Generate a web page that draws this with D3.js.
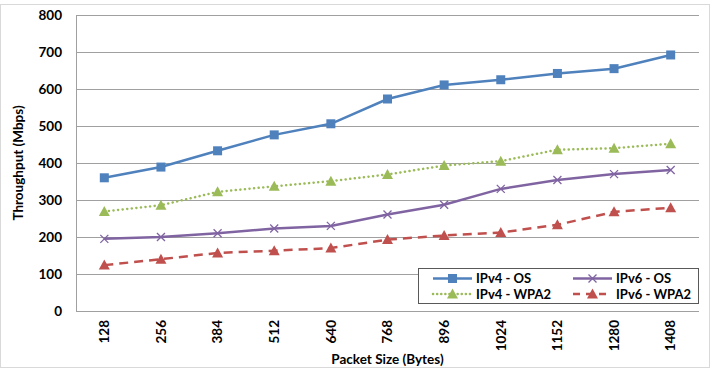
<!DOCTYPE html>
<html>
<head>
<meta charset="utf-8">
<script src="https://cdn.jsdelivr.net/npm/d3@7"></script>
<style>
  body { margin: 0; background: #fff; }
  text { font-family: Lato, "Open Sans", sans-serif; font-weight: bold; fill: #000; }
</style>
</head>
<body>
<div id="container"></div>
<script>
/* CONSTANTS AND GLOBALS */
const width = 712,
  height = 369,
  margin = { top: 15, bottom: 58, left: 76, right: 13 };

// DATA
const packetSizes = ["128", "256", "384", "512", "640", "768", "896", "1024", "1152", "1280", "1408"];
const ipv4OS   = [360, 389, 433, 476, 506, 573, 611, 625, 642, 655, 692];
const ipv4WPA2 = [269, 286, 322, 337, 351, 369, 393, 405, 436, 440, 452];
const ipv6OS   = [195, 200, 210, 223, 230, 261, 287, 330, 354, 370, 381];
const ipv6WPA2 = [124, 140, 157, 163, 170, 193, 204, 212, 233, 268, 279];
const yTicks = [0, 100, 200, 300, 400, 500, 600, 700, 800];

const series = [
  { name: "IPv4 - OS", values: ipv4OS, color: "#4F81BD", dash: null, marker: "square" },
  { name: "IPv6 - OS", values: ipv6OS, color: "#8064A2", dash: null, marker: "cross" },
  { name: "IPv4 - WPA2", values: ipv4WPA2, color: "#9BBB59", dash: "0.1,4.5", marker: "triangle" },
  { name: "IPv6 - WPA2", values: ipv6WPA2, color: "#C0504D", dash: "9,6", marker: "triangle" },
];

const fontSize = "13.5px";

const svg = d3.select("#container")
  .append("svg")
  .attr("width", width)
  .attr("height", height);

// outer chart frame
svg.append("rect")
  .attr("x", 0.5).attr("y", 4.5)
  .attr("width", 709).attr("height", 363)
  .attr("fill", "none")
  .attr("stroke", "#d9d9d9");

// SCALES
const x = d3.scaleBand()
  .domain(packetSizes)
  .range([margin.left, width - margin.right]);

const y = d3.scaleLinear()
  .domain([0, 800])
  .range([height - margin.bottom, margin.top]);

// gridlines
svg.append("g")
  .selectAll("line.grid")
  .data(yTicks)
  .join("line")
  .attr("class", "grid")
  .attr("x1", margin.left).attr("x2", width - margin.right)
  .attr("y1", d => Math.round(y(d)) + 0.5).attr("y2", d => Math.round(y(d)) + 0.5)
  .attr("stroke", "#a0a0a0")
  .attr("stroke-width", 1);

// left axis line
svg.append("line")
  .attr("x1", margin.left + 0.5).attr("x2", margin.left + 0.5)
  .attr("y1", y(800)).attr("y2", y(0))
  .attr("stroke", "#a0a0a0");

// Y AXIS labels
const yAxis = d3.axisLeft(y).tickValues(yTicks).tickSize(0).tickPadding(14);
svg.append("g")
  .attr("transform", `translate(${margin.left},0)`)
  .call(yAxis)
  .call(g => g.select(".domain").remove())
  .selectAll("text")
  .style("font-size", fontSize)
  .style("font-family", "Lato, sans-serif");

// X AXIS labels (rotated)
const xAxis = d3.axisBottom(x).tickSize(0);
svg.append("g")
  .attr("transform", `translate(0,${y(0)})`)
  .call(xAxis)
  .call(g => g.select(".domain").remove())
  .selectAll("text")
  .style("font-size", fontSize)
  .style("font-family", "Lato, sans-serif")
  .attr("text-anchor", "end")
  .attr("dy", "0.35em")
  .attr("transform", "translate(0,9) rotate(-90)")
  .attr("x", 0).attr("y", 0);

// axis titles
svg.append("text")
  .attr("x", (margin.left + width - margin.right) / 2)
  .attr("y", 364)
  .attr("text-anchor", "middle")
  .style("font-size", fontSize)
  .text("Packet Size (Bytes)");

svg.append("text")
  .attr("transform", `translate(23,${y(400)}) rotate(-90)`)
  .attr("text-anchor", "middle")
  .style("font-size", fontSize)
  .text("Throughput (Mbps)");

// LINES
const line = d3.line()
  .x((d, i) => x(packetSizes[i]) + x.bandwidth() / 2)
  .y(d => y(d));

function drawMarker(g, type, color) {
  if (type === "square") {
    g.append("rect").attr("x", -4.5).attr("y", -4.5).attr("width", 9).attr("height", 9)
      .attr("fill", color);
  } else if (type === "triangle") {
    g.append("path").attr("d", "M0,-5.5L5.5,4.5L-5.5,4.5Z").attr("fill", color);
  } else if (type === "cross") {
    g.append("path").attr("d", "M-4,-4L4,4M-4,4L4,-4")
      .attr("stroke", color).attr("stroke-width", 1.3).attr("fill", "none");
  }
}

const isDotted = s => s.dash && s.dash.startsWith("0.1");

series.forEach(s => {
  svg.append("path")
    .datum(s.values)
    .attr("fill", "none")
    .attr("stroke", s.color)
    .attr("stroke-width", 2.5)
    .attr("stroke-linecap", isDotted(s) ? "round" : "butt")
    .attr("stroke-dasharray", s.dash)
    .attr("d", line);

  svg.selectAll(null)
    .data(s.values)
    .join("g")
    .attr("transform", (d, i) => `translate(${x(packetSizes[i]) + x.bandwidth() / 2},${y(d)})`)
    .each(function () { drawMarker(d3.select(this), s.marker, s.color); });
});

// LEGEND
const legend = svg.append("g");
legend.append("rect")
  .attr("x", 418.5).attr("y", 268.5)
  .attr("width", 280).attr("height", 35)
  .attr("fill", "#fff")
  .attr("stroke", "#595959");

const legendPos = [
  { x: 433, y: 278.5 }, { x: 573, y: 278.5 },
  { x: 433, y: 294 }, { x: 573, y: 294 },
];

series.forEach((s, i) => {
  const p = legendPos[i];
  const g = legend.append("g").attr("transform", `translate(${p.x},${p.y})`);
  g.append("line")
    .attr("x1", 0).attr("x2", 39).attr("y1", 0).attr("y2", 0)
    .attr("stroke", s.color)
    .attr("stroke-width", 2.5)
    .attr("stroke-linecap", isDotted(s) ? "round" : "butt")
    .attr("stroke-dasharray", s.dash ? (isDotted(s) ? "0.1,4" : "7,6") : null);
  const m = g.append("g").attr("transform", "translate(19.5,0)");
  drawMarker(m, s.marker, s.color);
  g.append("text")
    .attr("x", 43).attr("y", 0).attr("dy", "0.35em")
    .style("font-size", "13px")
    .text(s.name);
});
</script>
</body>
</html>
